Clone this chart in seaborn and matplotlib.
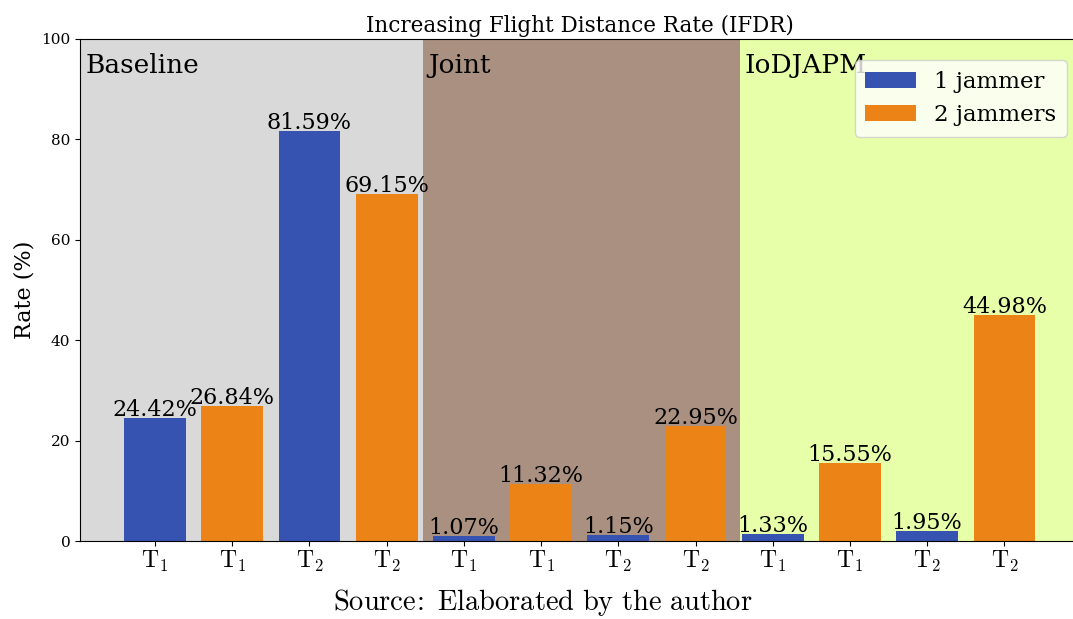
import matplotlib
matplotlib.use("Agg")
import matplotlib.pyplot as plt
import seaborn as sns
import pandas as pd

# Data
groups = ["Baseline", "Joint", "IoDJAPM"]
tasks = ["T1", "T1", "T2", "T2"]
series = ["1 jammer", "2 jammers", "1 jammer", "2 jammers"]
baseline_vals = [24.42, 26.84, 81.59, 69.15]
joint_vals = [1.07, 11.32, 1.15, 22.95]
iodjapm_vals = [1.33, 15.55, 1.95, 44.98]
tick_labels = [r"$\mathrm{T}_1$", r"$\mathrm{T}_1$", r"$\mathrm{T}_2$", r"$\mathrm{T}_2$"] * 3

values = baseline_vals + joint_vals + iodjapm_vals
df = pd.DataFrame({
    "slot": [str(i) for i in range(len(values))],
    "rate": values,
    "jammers": series * 3,
})

sns.set_style("ticks")
plt.rcParams["font.family"] = ["DejaVu Serif"]
plt.rcParams["mathtext.fontset"] = "cm"
plt.rcParams["text.color"] = "black"
plt.rcParams["axes.labelcolor"] = "black"
plt.rcParams["xtick.color"] = "black"
plt.rcParams["ytick.color"] = "black"
plt.rcParams["axes.edgecolor"] = "black"

palette = {"1 jammer": "#3753b1", "2 jammers": "#eb8317"}
span_colors = ["#d9d9d9", "#a99080", "#e8ffaa"]
span_edges = [-1.2, 3.47, 7.57, 12.5]

fig = plt.figure(figsize=(10.73, 6.19), dpi=100)
ax = fig.add_axes([0.0746, 0.126, 0.932, 0.811])

for c, a, b in zip(span_colors, span_edges[:-1], span_edges[1:]):
    ax.axvspan(a, b, color=c, zorder=0, lw=0)

sns.barplot(data=df, x="slot", y="rate", hue="jammers", palette=palette,
            dodge=False, width=0.8, ax=ax, zorder=2, saturation=1,
            linewidth=0, edgecolor="none")

for i, v in enumerate(values):
    ax.text(i, v - 0.6, f"{v:.2f}%", ha="center", va="bottom", fontsize=16,
            color="black", zorder=3)

for name, x0 in zip(groups, span_edges[:-1]):
    ax.text(max(x0, -0.97) + 0.07, 97.3, name, ha="left", va="top",
            fontsize=19, color="black", zorder=3)

ax.set_xlim(-0.97, 11.98)
ax.set_ylim(0, 100)
ax.set_xticks(range(len(values)))
ax.set_xticklabels(tick_labels, fontsize=17)
ax.tick_params(axis="x", pad=2)
ax.tick_params(axis="y", labelsize=11)
ax.set_xlabel("")
ax.set_ylabel("Rate (%)", fontsize=16)
ax.set_title("Increasing Flight Distance Rate (IFDR)", fontsize=15.5, pad=5)
ax.spines["right"].set_visible(False)

leg = ax.legend(loc="upper right", fontsize=16.5, frameon=True,
                bbox_to_anchor=(0.998, 0.98), handlelength=2.2,
                labelspacing=0.5, borderpad=0.45)
leg.get_frame().set_facecolor("white")
leg.get_frame().set_alpha(0.8)

fig.text(0.506, 0.026, r"$\mathrm{Source\!:\ Elaborated\ by\ the\ author}$",
         fontsize=20.5, ha="center", va="center")

fig.savefig("out.png", dpi=100)
